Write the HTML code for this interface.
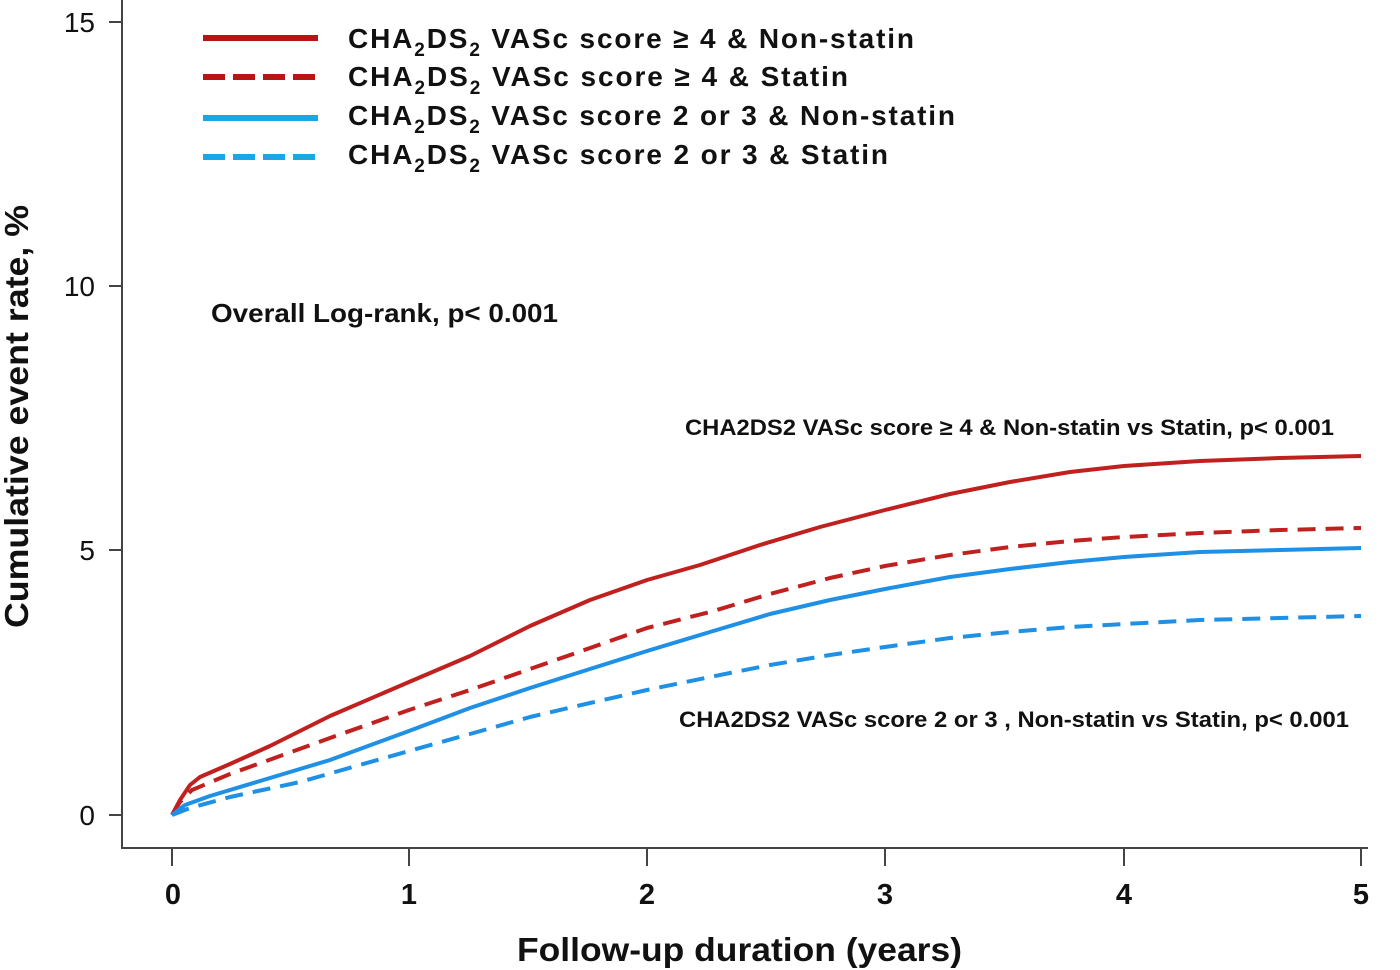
<!DOCTYPE html>
<html><head><meta charset="utf-8"><style>
body{margin:0;background:#fff}
svg{display:block;font-family:"Liberation Sans",Arial,sans-serif}
</style></head><body>
<svg width="1400" height="970" viewBox="0 0 1400 970">
<g stroke="#444" stroke-width="2" fill="none">
<path d="M122 0V848H1368"/>
<path d="M109 22H122M109 286H122M109 550H122M109 815H122"/>
<path d="M172 848V866M409 848V866M647 848V866M885 848V866M1124 848V866M1361 848V866"/>
</g>
<g font-size="28" text-anchor="end" fill="#111">
<text x="95" y="32">15</text><text x="95" y="296">10</text><text x="95" y="560">5</text><text x="95" y="825">0</text>
</g>
<g font-size="29" font-weight="bold" text-anchor="middle" fill="#111">
<text x="173" y="904">0</text><text x="409" y="904">1</text><text x="647" y="904">2</text><text x="885" y="904">3</text><text x="1124" y="904">4</text><text x="1361" y="904">5</text>
</g>
<text x="517" y="961" font-size="33" font-weight="bold" fill="#111" textLength="445" lengthAdjust="spacingAndGlyphs">Follow-up duration (years)</text>
<text transform="translate(28,628) rotate(-90)" font-size="33" font-weight="bold" fill="#111" textLength="423" lengthAdjust="spacingAndGlyphs">Cumulative event rate, %</text>
<g stroke-width="6" fill="none">
<path d="M203 38H318" stroke="#b81414"/>
<path d="M203 77H318" stroke="#b81414" stroke-dasharray="22 8"/>
<path d="M203 118H318" stroke="#1aa7e6"/>
<path d="M203 157H318" stroke="#1aa7e6" stroke-dasharray="22 8"/>
</g>
<g font-size="28" font-weight="bold" fill="#111">
<text x="348" y="48" textLength="566">CHA<tspan font-size="19" dy="8">2</tspan><tspan dy="-8">DS</tspan><tspan font-size="19" dy="8">2</tspan><tspan dy="-8"> VASc score ≥ 4 &amp; Non-statin</tspan></text>
<text x="348" y="86" textLength="500">CHA<tspan font-size="19" dy="8">2</tspan><tspan dy="-8">DS</tspan><tspan font-size="19" dy="8">2</tspan><tspan dy="-8"> VASc score ≥ 4 &amp; Statin</tspan></text>
<text x="348" y="125" textLength="607">CHA<tspan font-size="19" dy="8">2</tspan><tspan dy="-8">DS</tspan><tspan font-size="19" dy="8">2</tspan><tspan dy="-8"> VASc score 2 or 3 &amp; Non-statin</tspan></text>
<text x="348" y="164" textLength="540">CHA<tspan font-size="19" dy="8">2</tspan><tspan dy="-8">DS</tspan><tspan font-size="19" dy="8">2</tspan><tspan dy="-8"> VASc score 2 or 3 &amp; Statin</tspan></text>
</g>
<g font-weight="bold" fill="#111">
<text x="211" y="322" font-size="26" textLength="347" lengthAdjust="spacingAndGlyphs">Overall Log-rank, p&lt; 0.001</text>
<text x="685" y="435" font-size="22" textLength="649" lengthAdjust="spacingAndGlyphs">CHA2DS2 VASc score ≥ 4 &amp; Non-statin vs Statin, p&lt; 0.001</text>
<text x="679" y="727" font-size="22" textLength="670" lengthAdjust="spacingAndGlyphs">CHA2DS2 VASc score 2 or 3 , Non-statin vs Statin, p&lt; 0.001</text>
</g>
<g fill="none" stroke-width="4" stroke-linejoin="round">
<path stroke="#c0201e" d="M172 815L180 800L190 785L200 777L230 764L270 746L330 716L409 682L470 656L530 626L590 600L647 580L700 565L760 545L820 527L885 510L950 494L1010 482L1070 472L1124 466L1200 461L1280 458L1361 456"/>
<path stroke="#c0201e" stroke-dasharray="18 10" d="M172 815L180 802L192 790L230 774L330 738L409 710L470 690L530 669L590 648L647 628L710 612L770 594L830 578L885 566L950 555L1010 547L1070 541L1124 537L1200 533L1280 530L1361 528"/>
<path stroke="#1e90e6" d="M172 815L185 805L210 796L260 781L330 760L409 731L470 708L530 688L590 669L647 651L710 632L770 614L830 600L885 589L950 577L1010 569L1070 562L1124 557L1200 552L1280 550L1361 548"/>
<path stroke="#1e90e6" stroke-dasharray="18 10" d="M172 815L190 808L230 797L300 782L409 751L470 734L530 717L590 703L647 690L710 677L770 665L830 655L885 647L950 638L1010 632L1070 627L1124 624L1200 620L1280 618L1361 616"/>
</g>
</svg>
</body></html>
